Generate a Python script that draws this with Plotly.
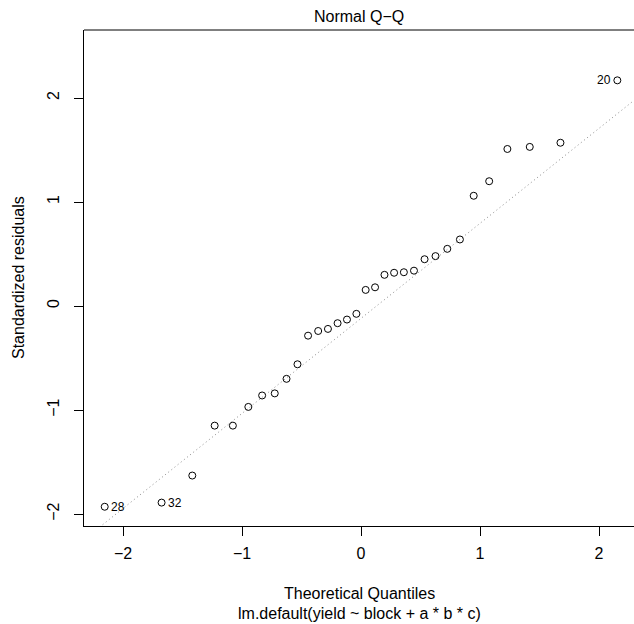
import numpy as np
import plotly.graph_objects as go

# Theoretical normal quantiles (x) and standardized residuals (y)
theoretical_quantiles = [
    -2.154, -1.676, -1.418, -1.230, -1.077, -0.947, -0.831, -0.725,
    -0.626, -0.534, -0.445, -0.360, -0.278, -0.197, -0.118, -0.039,
    0.039, 0.118, 0.197, 0.278, 0.360, 0.445, 0.534, 0.626,
    0.725, 0.831, 0.947, 1.077, 1.230, 1.418, 1.676, 2.154,
]
std_residuals = [
    -1.93, -1.89, -1.63, -1.15, -1.15, -0.97, -0.86, -0.84,
    -0.70, -0.56, -0.285, -0.24, -0.22, -0.165, -0.13, -0.075,
    0.155, 0.18, 0.30, 0.32, 0.325, 0.34, 0.45, 0.48,
    0.55, 0.64, 1.06, 1.20, 1.51, 1.53, 1.57, 2.17,
]
label_index = [0, 1, 31]
label_text = ["28", "32", "20"]
label_side = ["right", "right", "left"]

x_ticks = [-2, -1, 0, 1, 2]
y_ticks = [-2, -1, 0, 1, 2]
x_range = [-2.328, 2.294]
y_range = [-2.115, 2.654]

FONT = "Liberation Sans, Arial, Helvetica, sans-serif"

# reference line through the quartiles (qqline)
y25, y75 = np.quantile(std_residuals, [0.25, 0.75])
q = 0.6744897501960817
slope = (y75 - y25) / (2 * q)
intercept = y25 + slope * q
lx = np.array([x_range[0] - 0.5, x_range[1] + 0.5])
ly = intercept + slope * lx

fig = go.Figure()
fig.add_trace(go.Scatter(
    x=lx, y=ly, mode="lines",
    line=dict(color="#8a8a8a", width=1, dash="1px,3px"),
    hoverinfo="skip", showlegend=False,
))
fig.add_trace(go.Scatter(
    x=theoretical_quantiles, y=std_residuals, mode="markers",
    marker=dict(symbol="circle-open", size=7, color="black", line=dict(width=1, color="black")),
    showlegend=False,
))

for i, t, side in zip(label_index, label_text, label_side):
    fig.add_annotation(
        x=theoretical_quantiles[i], y=std_residuals[i], text=t, showarrow=False,
        xanchor="left" if side == "right" else "right", yanchor="middle",
        xshift=4 if side == "right" else -4,
        font=dict(family=FONT, size=12, color="black"),
    )

# titles
fig.add_annotation(xref="x domain", yref="paper", x=0.5, y=1, yshift=14, text="Normal Q−Q",
                   xanchor="center", yanchor="middle",
                   showarrow=False, font=dict(family=FONT, size=16, color="black"))
fig.add_annotation(xref="x domain", yref="paper", x=0.5, y=0, yshift=-67,
                   xanchor="center", yanchor="middle",
                   text="Theoretical Quantiles", showarrow=False,
                   font=dict(family=FONT, size=16, color="black"))
fig.add_annotation(xref="x domain", yref="paper", x=0.5, y=0, yshift=-87,
                   xanchor="center", yanchor="middle",
                   text="lm.default(yield ~ block + a * b * c)", showarrow=False,
                   font=dict(family=FONT, size=16, color="black"))
fig.add_annotation(xref="paper", yref="y domain", x=0, y=0.5, xshift=-66,
                   xanchor="center", yanchor="middle",
                   text="Standardized residuals", textangle=-90, showarrow=False,
                   font=dict(family=FONT, size=16, color="black"))

# top border of the box
fig.add_shape(type="line", xref="paper", yref="paper", x0=0, x1=1, y0=1, y1=1,
              line=dict(color="black", width=1))

fig.update_xaxes(range=x_range, tickvals=x_ticks, ticks="outside", ticklen=9,
                 tickwidth=1, tickcolor="black", showline=True, linecolor="black",
                 linewidth=1, showgrid=False, zeroline=False, ticklabelstandoff=4,
                 tickfont=dict(family=FONT, size=16, color="black"))
fig.update_yaxes(range=y_range, tickvals=y_ticks, ticks="outside", ticklen=9,
                 tickwidth=1, tickcolor="black", showline=True, linecolor="black",
                 linewidth=1, showgrid=False, zeroline=False, tickangle=-90,
                 ticklabelstandoff=9,
                 tickfont=dict(family=FONT, size=16, color="black"))

fig.update_layout(
    width=634, height=624,
    margin=dict(l=84, r=0, t=30, b=98),
    plot_bgcolor="white", paper_bgcolor="white",
    font=dict(family=FONT, size=16, color="black"),
)

fig.write_html(
    "out.html",
    config={"displayModeBar": False},
    post_script="document.body.style.margin='0';document.body.style.overflow='hidden';",
)
